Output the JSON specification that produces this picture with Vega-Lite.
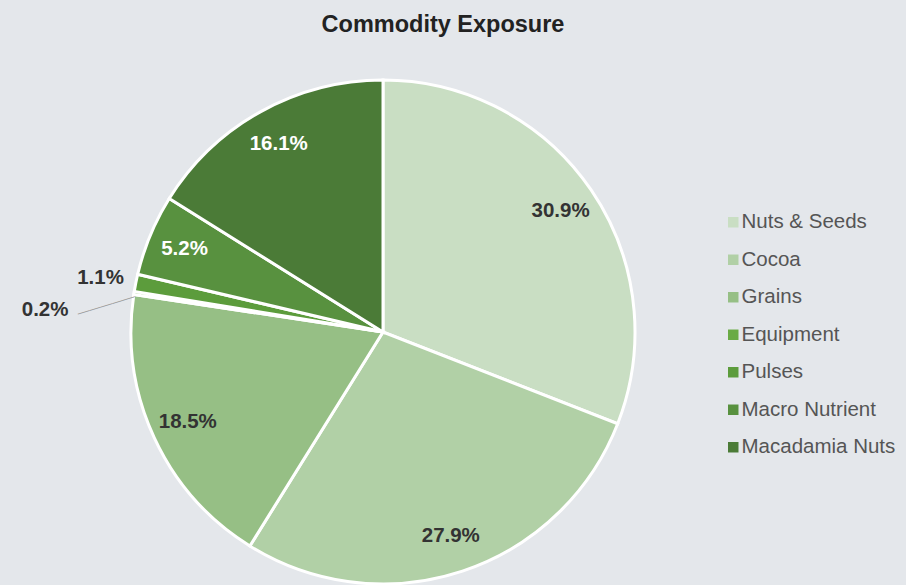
{
  "$schema": "https://vega.github.io/schema/vega-lite/v6.json",
  "autosize": {"type": "none"},
  "width": 766,
  "height": 504,
  "padding": {"left": 0, "top": 80, "right": 140, "bottom": 1},
  "background": "#e4e7eb",
  "config": {"view": {"stroke": null}, "font": "Liberation Sans"},
  "title": {"text": "Commodity Exposure", "fontSize": 23.5, "fontWeight": "bold", "color": "#222222", "font": "Liberation Sans", "dx": 60, "offset": 19},
  "data": {"values": [
    {"commodity": "Nuts & Seeds", "value": 30.9, "label": "30.9%", "ord": 1},
    {"commodity": "Cocoa", "value": 27.9, "label": "27.9%", "ord": 2},
    {"commodity": "Grains", "value": 18.5, "label": "18.5%", "ord": 3},
    {"commodity": "Equipment", "value": 0.2, "label": "0.2%", "ord": 4},
    {"commodity": "Pulses", "value": 1.1, "label": "1.1%", "ord": 5},
    {"commodity": "Macro Nutrient", "value": 5.2, "label": "5.2%", "ord": 6},
    {"commodity": "Macadamia Nuts", "value": 16.1, "label": "16.1%", "ord": 7}
  ]},
  "encoding": {
    "theta": {"field": "value", "type": "quantitative", "stack": true},
    "order": {"field": "ord", "type": "quantitative", "sort": "ascending"}
  },
  "layer": [
    {
      "mark": {"type": "arc", "outerRadius": 252, "stroke": "#ffffff", "strokeWidth": 3},
      "encoding": {
        "color": {
          "field": "commodity", "type": "nominal",
          "scale": {
            "domain": ["Nuts & Seeds", "Cocoa", "Grains", "Equipment", "Pulses", "Macro Nutrient", "Macadamia Nuts"],
            "range": ["#c9dec3", "#b1d0a6", "#96bf85", "#6aab45", "#5c9c3c", "#58913f", "#4b7b37"]
          },
          "legend": {
            "title": null, "orient": "none", "legendX": 723, "legendY": 132,
            "symbolType": "square", "symbolSize": 110, "symbolStrokeWidth": 0,
            "labelFontSize": 20.5, "labelColor": "#555555", "labelFont": "Liberation Sans",
            "rowPadding": 16.5, "labelOffset": -2
          }
        }
      }
    },
    {
      "mark": {"type": "text", "radius": 215, "fontSize": 20.5, "fontWeight": "bold", "font": "Liberation Sans", "align": "center", "baseline": "middle"},
      "encoding": {
        "text": {"condition": {"test": "datum.value >= 2", "field": "label"}, "value": ""},
        "color": {"condition": {"test": "datum.ord >= 6", "value": "#ffffff"}, "value": "#333333"}
      }
    },
    {
      "mark": {"type": "text", "radius": 288, "dy": 2, "fontSize": 20.5, "fontWeight": "bold", "font": "Liberation Sans", "align": "center", "baseline": "middle", "color": "#333333"},
      "encoding": {
        "text": {"condition": {"test": "datum.commodity === 'Pulses'", "field": "label"}, "value": ""}
      }
    },
    {
      "mark": {"type": "text", "radius": 340, "dy": 31, "dx": -2, "fontSize": 20.5, "fontWeight": "bold", "font": "Liberation Sans", "align": "center", "baseline": "middle", "color": "#333333"},
      "encoding": {
        "text": {"condition": {"test": "datum.commodity === 'Equipment'", "field": "label"}, "value": ""}
      }
    },
    {
      "mark": {"type": "text", "radius": 282, "dy": 16, "dx": -3, "angle": 343, "fontSize": 12, "font": "Liberation Sans", "align": "center", "baseline": "middle", "color": "#9a9a9a"},
      "encoding": {
        "text": {"condition": {"test": "datum.commodity === 'Equipment'", "value": "—————"}, "value": ""}
      }
    }
  ]
}
